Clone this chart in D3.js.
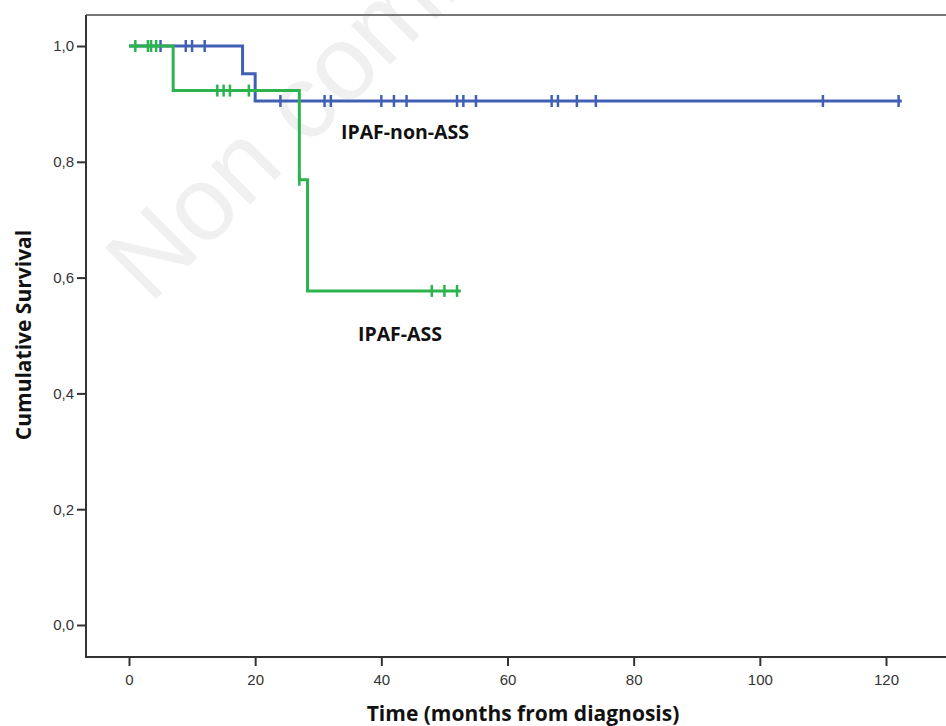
<!DOCTYPE html>
<html>
<head>
<meta charset="utf-8">
<script src="https://cdn.jsdelivr.net/npm/d3@7"></script>
<style>
    body { margin: 0; background: #fff; }
    .tick text { font-family: "Liberation Sans", Arial, sans-serif; font-size: 15px; fill: #333; }
    .tick line { stroke: #333; stroke-width: 2; }
    .title { font-family: "Open Sans", Lato, sans-serif; font-weight: bold; fill: #111; }
</style>
</head>
<body>
<script>
//group names
var groups = ["IPAF-non-ASS", "IPAF-ASS"];

//IPAF-non-ASS survival steps (months, cumulative survival)
var nonAssTime = [0, 18, 20, 122.5];
var nonAssSurv = [1, 0.952, 0.905, 0.905];
var nonAssCensor = [5, 9, 10, 12, 24, 31, 32, 40, 42, 44, 52, 53, 55, 67, 68, 71, 74, 110, 122];

//IPAF-ASS survival steps
var assTime = [0, 7, 27, 28.3, 52.6];
var assSurv = [1, 0.923, 0.769, 0.577, 0.577];
var assCensor = [1, 3, 3.5, 4.3, 14, 15, 16, 19, 27, 48, 50, 52];

//axis ticks
var xTicks = [0, 20, 40, 60, 80, 100, 120];
var yTicks = [0, 0.2, 0.4, 0.6, 0.8, 1.0];

window.onload = function(){

    var w = 946, h = 726;
    var svg = d3.select("body")
        .append("svg")
        .attr("width", w)
        .attr("height", h);

    //scales
    var x = d3.scaleLinear()
        .domain([0, 120])
        .range([129, 886]);
    var y = d3.scaleLinear()
        .domain([0, 1])
        .range([625, 46]);

    //watermark behind the plot
    svg.append("text")
        .attr("transform", "translate(150,305) rotate(-45)")
        .style("font-family", "'Liberation Sans', Arial, sans-serif")
        .style("font-size", "105px")
        .style("fill", "#f0f0f0")
        .text("Non commercial use only");

    //frame
    svg.append("line")
        .attr("x1", 86).attr("x2", w)
        .attr("y1", 15).attr("y2", 15)
        .style("stroke", "#777")
        .style("stroke-width", 2);
    svg.append("path")
        .attr("d", "M86,15V657H" + w)
        .style("fill", "none")
        .style("stroke", "#333")
        .style("stroke-width", 2);

    //axes
    var fmt = function(d){ return d3.format(".1f")(d).replace(".", ","); };
    var xAxis = svg.append("g")
        .attr("transform", "translate(0,657)")
        .call(d3.axisBottom(x).tickValues(xTicks).tickSize(9).tickPadding(8));
    var yAxis = svg.append("g")
        .attr("transform", "translate(86,0)")
        .call(d3.axisLeft(y).tickValues(yTicks).tickFormat(fmt).tickSize(9).tickPadding(3));
    svg.selectAll(".domain").remove();

    //axis titles
    svg.append("text")
        .attr("class", "title")
        .attr("x", 523)
        .attr("y", 721)
        .attr("text-anchor", "middle")
        .style("font-size", "21px")
        .text("Time (months from diagnosis)");
    svg.append("text")
        .attr("class", "title")
        .attr("transform", "translate(31,335) rotate(-90)")
        .attr("text-anchor", "middle")
        .style("font-size", "21px")
        .text("Cumulative Survival");

    //survival curves
    var series = [
        { name: groups[0], time: nonAssTime, surv: nonAssSurv, censor: nonAssCensor, color: "#4061b3" },
        { name: groups[1], time: assTime, surv: assSurv, censor: assCensor, color: "#2db34e" }
    ];

    var line = d3.line()
        .x(function(d){ return x(d[0]); })
        .y(function(d){ return y(d[1]); })
        .curve(d3.curveStepAfter);

    //survival value at time t (right-continuous step)
    var survAt = function(s, t){
        var v = s.surv[0];
        s.time.forEach(function(tt, i){ if (tt <= t) v = s.surv[i]; });
        return v;
    };

    series.forEach(function(s){
        svg.append("path")
            .datum(d3.zip(s.time, s.surv))
            .attr("d", line)
            .style("fill", "none")
            .style("stroke", s.color)
            .style("stroke-width", 3);

        svg.selectAll(".c" + s.color.slice(1))
            .data(s.censor)
            .enter()
            .append("line")
            .attr("x1", function(d){ return x(d); })
            .attr("x2", function(d){ return x(d); })
            .attr("y1", function(d){ return y(survAt(s, d)) - 6; })
            .attr("y2", function(d){ return y(survAt(s, d)) + 6; })
            .style("stroke", s.color)
            .style("stroke-width", 2.5);
    });

    //curve labels
    svg.append("text")
        .attr("class", "title")
        .attr("x", 405)
        .attr("y", 139)
        .attr("text-anchor", "middle")
        .style("font-size", "19.5px")
        .text(groups[0]);
    svg.append("text")
        .attr("class", "title")
        .attr("x", 400)
        .attr("y", 341)
        .attr("text-anchor", "middle")
        .style("font-size", "19.5px")
        .text(groups[1]);
};
</script>
</body>
</html>
